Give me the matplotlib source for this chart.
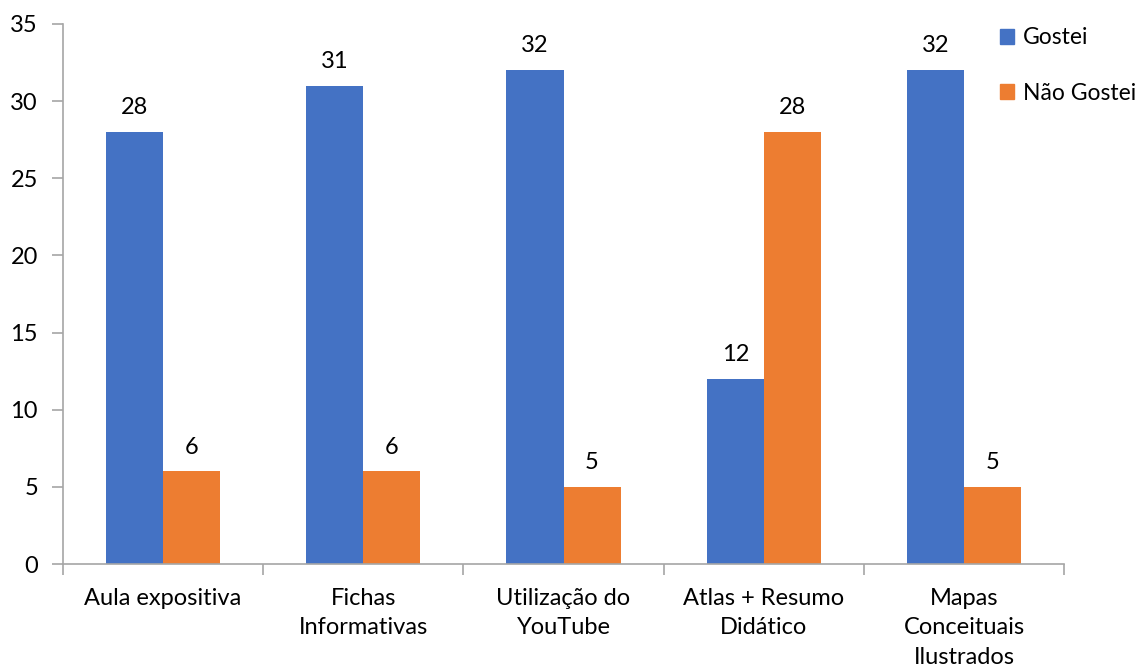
import numpy as np
import matplotlib.pyplot as plt
from matplotlib.patches import Patch

plt.rcParams['font.family'] = ['Lato', 'DejaVu Sans']

categorias = ['Aula expositiva', 'Fichas\nInformativas', 'Utilização do\nYouTube',
              'Atlas + Resumo\nDidático', 'Mapas\nConceituais\nIlustrados']
gostei = [28, 31, 32, 12, 32]
nao_gostei = [6, 6, 5, 28, 5]

azul = '#4472c4'
laranja = '#ed7d31'
cinza = '#a6a6a6'
fs = 17

fig = plt.figure(figsize=(11.47, 6.72), dpi=100)
ax = fig.add_axes([0.0549, 0.1607, 0.8728, 0.8036])

x = np.arange(len(categorias))
w = 0.285
b1 = ax.bar(x - w/2, gostei, w, color=azul, label='Gostei')
b2 = ax.bar(x + w/2, nao_gostei, w, color=laranja, label='Não Gostei')

for bars, vals in ((b1, gostei), (b2, nao_gostei)):
    for r, v in zip(bars, vals):
        ax.annotate(str(v), (r.get_x() + r.get_width()/2, v), xytext=(0, 10),
                    textcoords='offset points', ha='center', va='bottom', fontsize=fs)

ax.set_xlim(-0.5, len(categorias) - 0.5)
ax.set_ylim(0, 35)
ax.set_yticks(range(0, 36, 5))
ax.set_xticks(x)
ax.set_xticklabels(categorias, fontsize=fs, linespacing=1.5)
ax.set_xticks(np.arange(-0.5, len(categorias)), minor=True)
ax.tick_params(axis='x', which='major', length=0, pad=17)
ax.tick_params(axis='x', which='minor', length=8, color=cinza, width=1.2)
ax.tick_params(axis='y', length=8, color=cinza, width=1.2, labelsize=fs, pad=10)

for s in ('top', 'right'):
    ax.spines[s].set_visible(False)
for s in ('left', 'bottom'):
    ax.spines[s].set_color(cinza)
    ax.spines[s].set_linewidth(1.2)

handles = [Patch(color=azul), Patch(color=laranja)]
fig.legend(handles, ['Gostei', 'Não Gostei'], loc='upper left',
           bbox_to_anchor=(0.854, 0.99), frameon=False, fontsize=16.5,
           handlelength=0.6, handleheight=0.6, handletextpad=0.4,
           labelspacing=1.5)

fig.savefig('out.png', dpi=100)
